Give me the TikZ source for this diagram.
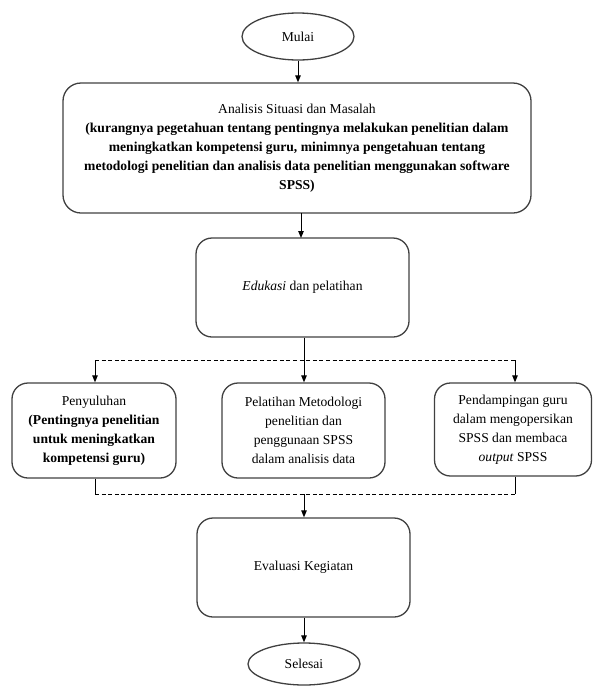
\documentclass[tikz,border=0pt]{standalone}
\usepackage{fontspec}
\setmainfont{Liberation Serif}
\usetikzlibrary{arrows.meta,shapes.geometric}
\begin{document}
\begin{tikzpicture}[x=1pt,y=-1pt,
  every node/.style={font=\fontsize{13.6}{19}\selectfont, align=center, inner sep=0pt},
  procbox/.style={draw=black!75, line width=1.3pt, rounded corners=16pt},
  term/.style={draw=black!75, line width=1.3pt, ellipse},
  arr/.style={line width=1pt, -{Triangle[length=7pt,width=5.5pt]}},
  solidline/.style={line width=1pt},
  dashline/.style={line width=1pt, dash pattern=on 4pt off 2.6pt}]
\useasboundingbox (0,0) rectangle (593,686);
\node[term, minimum width=112pt, minimum height=47pt] (mulai) at (298,36.5) {Mulai};
\node[procbox, rounded corners=18pt, minimum width=468pt, minimum height=130pt] (main) at (297,148)
  {Analisis Situasi dan Masalah\\
   \textbf{(kurangnya pegetahuan tentang pentingnya melakukan penelitian dalam}\\
   \textbf{meningkatkan kompetensi guru, minimnya pengetahuan tentang}\\
   \textbf{metodologi penelitian dan analisis data penelitian menggunakan software}\\
   \textbf{SPSS)}};
\node[procbox, minimum width=213pt, minimum height=99pt] (edu) at (302.5,287.5) {\textit{Edukasi} dan pelatihan};
\node[procbox, minimum width=164pt, minimum height=95pt] (left) at (94,430.5)
  {Penyuluhan\\ \textbf{(Pentingnya penelitian}\\ \textbf{untuk meningkatkan}\\ \textbf{kompetensi guru)}};
\node[procbox, minimum width=163pt, minimum height=95pt] (mid) at (303.5,430.5)
  {Pelatihan Metodologi\\ penelitian dan\\ penggunaan SPSS\\ dalam analisis data};
\node[procbox, minimum width=157pt, minimum height=93pt] (right) at (513,429.5)
  {Pendampingan guru\\ dalam mengopersikan\\ SPSS dan membaca\\ \textit{output} SPSS};
\node[procbox, minimum width=213pt, minimum height=99pt] (eval) at (303.5,567.5) {Evaluasi Kegiatan};
\node[term, minimum width=112pt, minimum height=42pt] (selesai) at (304,664) {Selesai};

\coordinate (fork) at (304,360);
\coordinate (forkL) at (95,360);
\coordinate (forkR) at (515,360);
\coordinate (join) at (304,494);
\coordinate (joinL) at (95,494);
\coordinate (joinR) at (515,494);

\draw[arr] (mulai.south) -- (mulai.south |- main.north);
\draw[arr] (301,213) -- (301,238);
\draw[arr] (edu.south -| fork) -- (mid.north -| fork);
\draw[dashline] (forkL) -- (forkR);
\draw[arr] (forkL) -- (forkL |- left.north);
\draw[arr] (forkR) -- (forkR |- right.north);
\draw[solidline] (joinL |- left.south) -- (joinL);
\draw[solidline] (joinR |- right.south) -- (joinR);
\draw[dashline] (joinL) -- (joinR);
\draw[arr] (join) -- (join |- eval.north);
\draw[arr] (eval.south -| selesai.north) -- (selesai.north);
\end{tikzpicture}
\end{document}
